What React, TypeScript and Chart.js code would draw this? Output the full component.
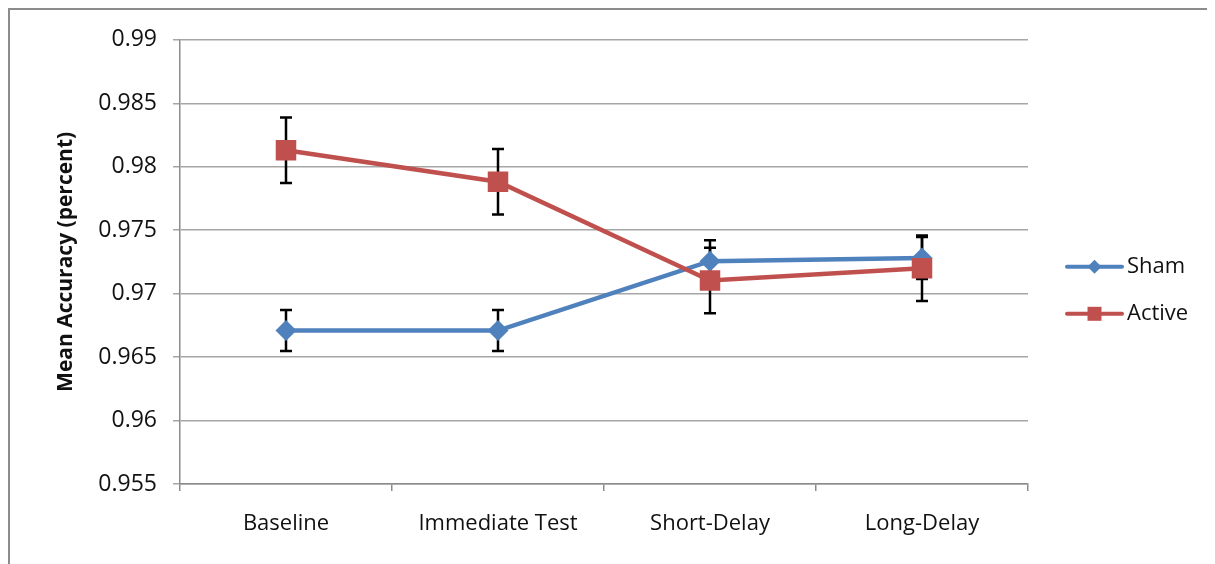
import React, { useEffect, useRef } from "react";
import { Chart, registerables } from "chart.js";

Chart.register(...registerables);

const categories = ["Baseline", "Immediate Test", "Short-Delay", "Long-Delay"];
const shamValues = [0.96709, 0.96709, 0.97256, 0.97281];
const shamErrors = [0.00162, 0.00162, 0.00165, 0.00165];
const activeValues = [0.9813, 0.97882, 0.97103, 0.972];
const activeErrors = [0.00258, 0.00258, 0.00258, 0.00258];
const seriesNames = ["Sham", "Active"];
const yMin = 0.955;
const yMax = 0.99;
const yStep = 0.005;

const SHAM = "#4F81BD";
const ACTIVE = "#C0504D";
const FONT = "'Open Sans', 'Noto Sans', sans-serif";
const TEXT = "#111111";
const GRID = "#A6A6A6";
const AXIS = "#8C8C8C";

const errorBarPlugin = {
  id: "errorBars",
  beforeDatasetsDraw(chart: any) {
    const { ctx, scales } = chart;
    const x = scales.x;
    const y = scales.y;
    const sets = [
      { vals: shamValues, errs: shamErrors },
      { vals: activeValues, errs: activeErrors },
    ];
    ctx.save();
    ctx.strokeStyle = "#000000";
    ctx.lineWidth = 2.5;
    ctx.lineCap = "butt";
    sets.forEach((s) => {
      s.vals.forEach((v, i) => {
        const px = x.getPixelForValue(i);
        const top = y.getPixelForValue(v + s.errs[i]);
        const bot = y.getPixelForValue(v - s.errs[i]);
        ctx.beginPath();
        ctx.moveTo(px, top);
        ctx.lineTo(px, bot);
        ctx.moveTo(px - 6, top);
        ctx.lineTo(px + 6, top);
        ctx.moveTo(px - 6, bot);
        ctx.lineTo(px + 6, bot);
        ctx.stroke();
      });
    });
    ctx.restore();
  },
};

const legendPlugin = {
  id: "customLegend",
  afterDraw(chart: any) {
    const { ctx, chartArea } = chart;
    const items = [
      { name: seriesNames[0], color: SHAM, style: "diamond", dy: 227 },
      { name: seriesNames[1], color: ACTIVE, style: "square", dy: 274 },
    ];
    ctx.save();
    items.forEach((it) => {
      const y = chartArea.top + it.dy;
      const x0 = chartArea.right + 39;
      const x1 = chartArea.right + 94;
      const cx = (x0 + x1) / 2;
      ctx.strokeStyle = it.color;
      ctx.lineWidth = 4;
      ctx.lineCap = "round";
      ctx.beginPath();
      ctx.moveTo(x0, y);
      ctx.lineTo(x1, y);
      ctx.stroke();
      ctx.fillStyle = it.color;
      ctx.beginPath();
      if (it.style === "diamond") {
        const r = 7;
        ctx.moveTo(cx, y - r);
        ctx.lineTo(cx + r, y);
        ctx.lineTo(cx, y + r);
        ctx.lineTo(cx - r, y);
        ctx.closePath();
      } else {
        const h = 7;
        ctx.rect(cx - h, y - h, 2 * h, 2 * h);
      }
      ctx.fill();
      ctx.fillStyle = TEXT;
      ctx.font = `22px ${FONT}`;
      ctx.textAlign = "left";
      ctx.textBaseline = "middle";
      ctx.fillText(it.name, chartArea.right + 99, y);
    });
    ctx.restore();
  },
};

export default function App() {
  const ref = useRef<HTMLCanvasElement | null>(null);

  useEffect(() => {
    document.documentElement.style.overflow = "hidden";
    document.body.style.overflow = "hidden";
    if (!ref.current) return;
    const chart = new Chart(ref.current, {
      type: "line",
      data: {
        labels: categories,
        datasets: [
          {
            label: seriesNames[0],
            data: shamValues,
            borderColor: SHAM,
            backgroundColor: SHAM,
            borderWidth: 4.5,
            pointStyle: "rectRot",
            pointRadius: 10.5,
            pointHoverRadius: 10.5,
            pointBorderWidth: 0,
            tension: 0,
            order: 2,
          },
          {
            label: seriesNames[1],
            data: activeValues,
            borderColor: ACTIVE,
            backgroundColor: ACTIVE,
            borderWidth: 4.5,
            pointStyle: "rect",
            pointRadius: 14.5,
            pointHoverRadius: 14.5,
            pointBorderWidth: 0,
            tension: 0,
            order: 1,
          },
        ],
      },
      options: {
        animation: false,
        responsive: true,
        maintainAspectRatio: false,
        layout: { padding: { left: 0, right: 187, top: 27, bottom: 0 } },
        plugins: {
          legend: { display: false },
          tooltip: { enabled: false },
        },
        scales: {
          x: {
            offset: true,
            grid: {
              offset: true,
              drawOnChartArea: false,
              drawTicks: true,
              tickLength: 7,
              color: AXIS,
              lineWidth: 1.5,
            },
            border: { display: true, color: AXIS, width: 1.5 },
            ticks: {
              color: TEXT,
              font: { family: FONT, size: 22 },
              padding: 20,
              maxRotation: 0,
            },
            afterFit(scale: any) {
              scale.height = 72;
            },
          },
          y: {
            min: yMin,
            max: yMax,
            grid: {
              color: GRID,
              lineWidth: 1.5,
              drawTicks: true,
              tickLength: 7,
            },
            border: { display: true, color: AXIS, width: 1.5 },
            ticks: {
              stepSize: yStep,
              color: TEXT,
              font: { family: FONT, size: 23 },
              padding: 16,
              callback: (v: any) => String(Number(Number(v).toFixed(3))),
            },
            title: {
              display: true,
              text: "Mean Accuracy (percent)",
              color: TEXT,
              font: { family: FONT, size: 21, weight: "bold" },
              padding: { top: 43, bottom: 0 },
            },
            afterFit(scale: any) {
              scale.width = 170;
            },
          },
        },
      },
      plugins: [errorBarPlugin, legendPlugin],
    });
    return () => chart.destroy();
  }, []);

  return (
    <div
      style={{
        width: 1207,
        height: 560,
        boxSizing: "border-box",
        borderTop: "2px solid #8C8C8C",
        borderLeft: "2px solid #8C8C8C",
        background: "#fff",
        position: "relative",
      }}
    >
      <div style={{ position: "relative", width: 1205, height: 546 }}>
        <canvas ref={ref} />
      </div>
    </div>
  );
}
